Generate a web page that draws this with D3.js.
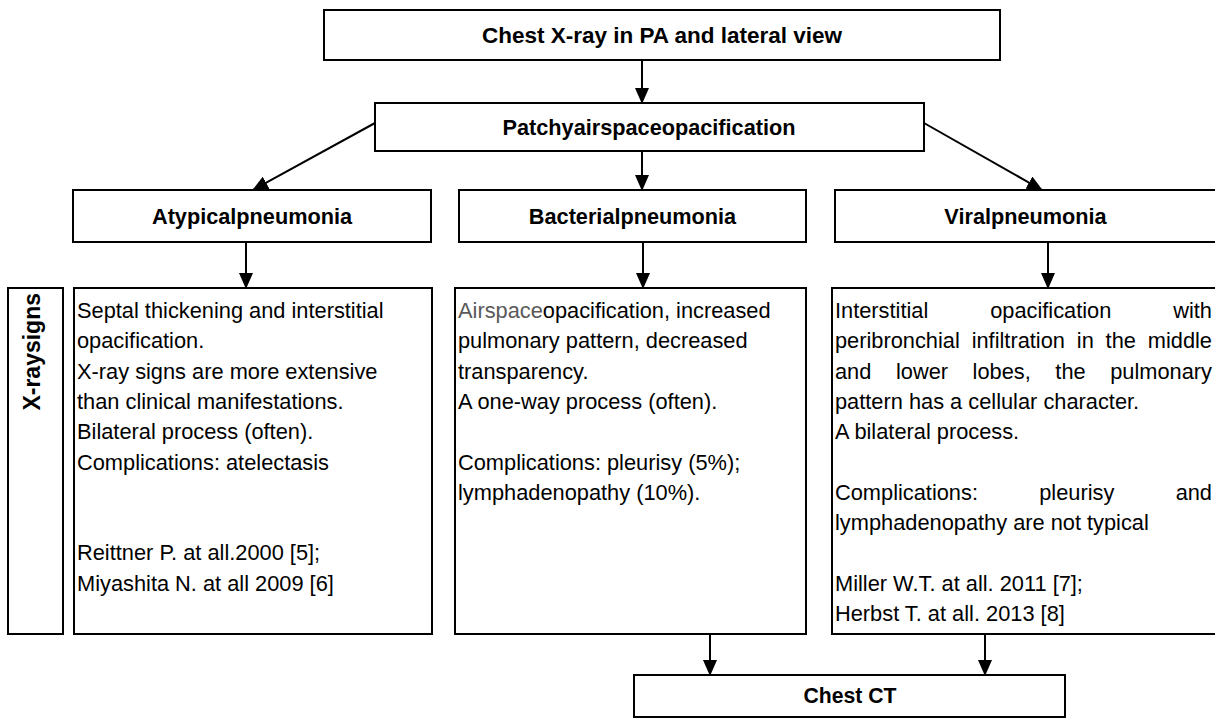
<!DOCTYPE html>
<html>
<head>
<meta charset="utf-8">
<script src="https://cdn.jsdelivr.net/npm/d3@7"></script>
<style>
  html, body { margin: 0; padding: 0; background: #fff; }
  svg { display: block; font-family: "Liberation Sans", Arial, Helvetica, sans-serif; }
</style>
</head>
<body>
<svg id="chart" width="1215" height="718"></svg>
<script>
// flowchart texts
var startStep = "Chest X-ray in PA and lateral view";
var findingStep = "Patchyairspaceopacification";
var pneumoniaTypes = ["Atypicalpneumonia", "Bacterialpneumonia", "Viralpneumonia"];
var sideLabel = "X-raysigns";
var finalStep = "Chest CT";
var finalFrom = ["Bacterialpneumonia", "Viralpneumonia"];
var mutedWord = "Airspace";

// signs per type, as paragraphs of lines ([] = empty line)
var atypicalSigns = [
  ["Septal thickening and interstitial", "opacification."],
  ["X-ray signs are more extensive", "than clinical manifestations."],
  ["Bilateral process (often)."],
  ["Complications: atelectasis"],
  [], [],
  ["Reittner P. at all.2000 [5];"],
  ["Miyashita N. at all 2009 [6]"]
];
var bacterialSigns = [
  ["Airspaceopacification, increased", "pulmonary pattern, decreased", "transparency."],
  ["A one-way process (often)."],
  [],
  ["Complications: pleurisy (5%);", "lymphadenopathy (10%)."]
];
var viralSigns = [
  ["Interstitial opacification with", "peribronchial infiltration in the middle",
   "and lower lobes, the pulmonary", "pattern has a cellular character."],
  ["A bilateral process."],
  [],
  ["Complications: pleurisy and", "lymphadenopathy are not typical"],
  [],
  ["Miller W.T. at all. 2011 [7];"],
  ["Herbst T. at all. 2013 [8]"]
];
var signsByType = [atypicalSigns, bacterialSigns, viralSigns];
var justifyByType = [false, false, true];

var svg = d3.select("#chart");

// layout
var headX = d3.scaleOrdinal().domain(pneumoniaTypes).range([[73, 431], [459, 806], [835, 1216]]);
var signX = d3.scaleOrdinal().domain(pneumoniaTypes).range([[74, 432], [455, 806], [832, 1216]]);
var inArrowX = d3.scaleOrdinal().domain(pneumoniaTypes).range([253, 642, 1042]);
var downArrowX = d3.scaleOrdinal().domain(pneumoniaTypes).range([246, 643, 1048]);
var finalArrowX = d3.scaleOrdinal().domain(finalFrom).range([710, 985]);

var lineY = d3.scaleLinear().domain([0, 1]).range([318, 348.3]);

var defs = svg.append("defs");
defs.append("marker")
    .attr("id", "head")
    .attr("viewBox", "0 0 16 14")
    .attr("refX", 15)
    .attr("refY", 7)
    .attr("markerWidth", 16)
    .attr("markerHeight", 14)
    .attr("markerUnits", "userSpaceOnUse")
    .attr("orient", "auto")
  .append("path")
    .attr("d", "M0,0L16,7L0,14Z")
    .attr("fill", "#000");

var gArrows = svg.append("g");
var gBoxes = svg.append("g");
var gText = svg.append("g");

function box(x0, y0, x1, y1) {
  gBoxes.append("rect")
    .attr("x", x0).attr("y", y0)
    .attr("width", x1 - x0).attr("height", y1 - y0)
    .attr("fill", "#fff")
    .attr("stroke", "#000")
    .attr("stroke-width", 2);
}

function label(txt, cx, cy, size) {
  gText.append("text")
    .attr("x", cx)
    .attr("y", cy + size * 0.36)
    .attr("text-anchor", "middle")
    .attr("font-weight", "bold")
    .attr("font-size", size)
    .attr("fill", "#000")
    .text(txt);
}

function arrow(x0, y0, x1, y1) {
  gArrows.append("line")
    .attr("x1", x0).attr("y1", y0)
    .attr("x2", x1).attr("y2", y1)
    .attr("stroke", "#000")
    .attr("stroke-width", 2)
    .attr("marker-end", "url(#head)");
}

// top steps
box(324, 10, 1000, 60);
label(startStep, 662, 35, 22.5);
arrow(642, 60, 642, 103);

box(375, 103, 924, 151);
label(findingStep, 649, 127, 21.7);

// type headers
pneumoniaTypes.forEach(function(t, i) {
  var hx = headX(t), sx = signX(t);
  box(hx[0], 190, hx[1], 242);
  label(t, (hx[0] + hx[1]) / 2, 216, 21.7);
  arrow(downArrowX(t), 242, downArrowX(t), 288);
  box(sx[0], 288, sx[1], 634);
});
arrow(375, 123, inArrowX(pneumoniaTypes[0]), 190);
arrow(642, 151, inArrowX(pneumoniaTypes[1]), 190);
arrow(924, 123, inArrowX(pneumoniaTypes[2]), 190);

// side label
box(8, 288, 63, 634);
gText.append("text")
  .attr("transform", "translate(40,293) rotate(-90)")
  .attr("text-anchor", "end")
  .attr("font-weight", "bold")
  .attr("font-size", 23)
  .text(sideLabel);

// sign texts
function writeLine(str, x0, x1, y, justify) {
  var size = 21.8;
  if (!justify) {
    var t = gText.append("text")
      .attr("x", x0)
      .attr("y", y)
      .attr("font-size", size)
      .attr("fill", "#000");
    if (str.indexOf(mutedWord) === 0) {
      t.append("tspan").attr("fill", "#595959").text(mutedWord);
      t.append("tspan").text(str.slice(mutedWord.length));
    } else {
      t.text(str);
    }
    return;
  }
  var words = str.split(" ");
  var nodes = words.map(function(w) {
    return gText.append("text")
      .attr("y", y)
      .attr("font-size", size)
      .attr("fill", "#000")
      .text(w);
  });
  var widths = nodes.map(function(n) { return n.node().getComputedTextLength(); });
  var gap = (x1 - x0 - d3.sum(widths)) / (words.length - 1);
  var x = x0;
  nodes.forEach(function(n, k) {
    n.attr("x", x);
    x += widths[k] + gap;
  });
}

pneumoniaTypes.forEach(function(t, i) {
  var sx = signX(t);
  var row = 0;
  signsByType[i].forEach(function(par) {
    if (par.length === 0) { row += 1; return; }
    par.forEach(function(ln, k) {
      var just = justifyByType[i] && k < par.length - 1;
      writeLine(ln, sx[0] + 3, 1212, lineY(row), just);
      row += 1;
    });
  });
});

// final step
finalFrom.forEach(function(t) {
  arrow(finalArrowX(t), 634, finalArrowX(t), 675);
});
box(634, 675, 1065, 717);
label(finalStep, 850, 695, 21.2);
</script>
</body>
</html>
